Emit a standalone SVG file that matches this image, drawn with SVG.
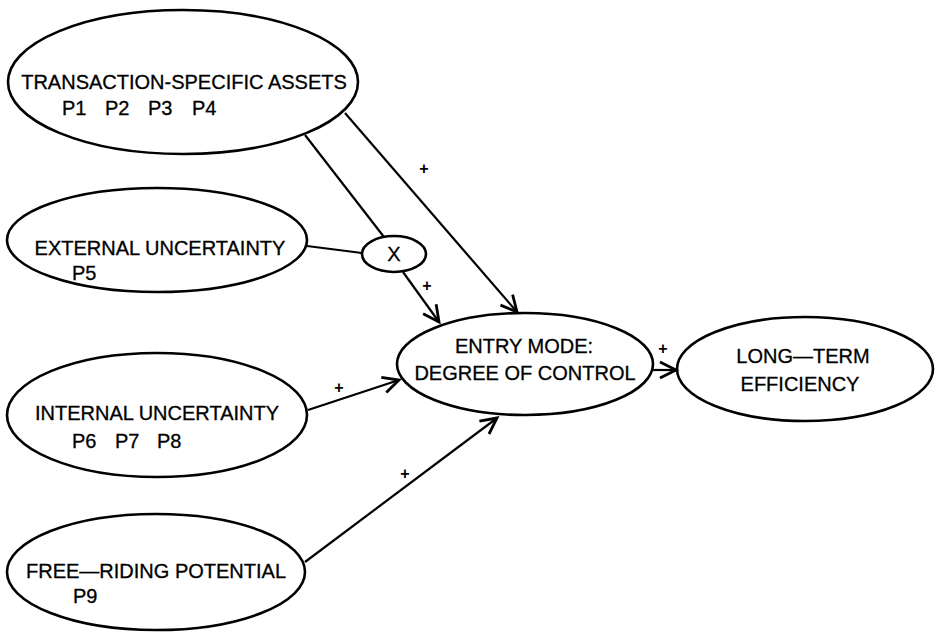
<svg xmlns="http://www.w3.org/2000/svg" width="936" height="633" viewBox="0 0 936 633">
<style>
.n{fill:none;stroke:#000;stroke-width:2.6}
.t{font-family:"Liberation Sans",Arial,sans-serif;font-size:20px;fill:#000;stroke:#000;stroke-width:0.3}
.c{text-anchor:middle}
.e{fill:none;stroke:#000;stroke-width:2.2}
.a{marker-end:url(#arr)}
.p{font-family:"Liberation Sans",Arial,sans-serif;font-size:16px;font-weight:bold;fill:#000;text-anchor:middle}
</style>
<defs>
<marker id="arr" markerUnits="userSpaceOnUse" markerWidth="24" markerHeight="24" viewBox="-20 -10 24 20" refX="0" refY="0" orient="auto">
<path d="M-16,-8 L0,0 L-16,8" fill="none" stroke="#000" stroke-width="2.8"/>
</marker>
</defs>
<rect width="936" height="633" fill="#fff"/>
<g id="connectors">
<line class="e" x1="305" y1="135" x2="384" y2="237"/>
<line class="e a" x1="345" y1="113" x2="517" y2="312"/>
<line class="e" x1="307" y1="246" x2="362" y2="253"/>
<line class="e a" x1="403" y1="272" x2="439" y2="322"/>
<line class="e a" x1="308" y1="410" x2="399" y2="380"/>
<line class="e a" x1="305" y1="562" x2="497" y2="418"/>
<line class="e a" x1="653" y1="370" x2="676" y2="370"/>
<text class="p" x="424" y="174">+</text>
<text class="p" x="427" y="291">+</text>
<text class="p" x="339" y="393">+</text>
<text class="p" x="405" y="479">+</text>
<text class="p" x="663" y="354">+</text>
</g>
<g id="tsa">
<ellipse class="n" cx="183" cy="82" rx="175" ry="72"/>
<text class="t c" x="184" y="89">TRANSACTION-SPECIFIC ASSETS</text>
<text class="t"><tspan x="62" y="115">P1</tspan><tspan x="105" y="115">P2</tspan><tspan x="148" y="115">P3</tspan><tspan x="192" y="115">P4</tspan></text>
</g>
<g id="external">
<ellipse class="n" cx="157" cy="240" rx="150" ry="52"/>
<text class="t c" x="160" y="255">EXTERNAL UNCERTAINTY</text>
<text class="t" x="72" y="280">P5</text>
</g>
<g id="internal">
<ellipse class="n" cx="157" cy="415" rx="150" ry="62"/>
<text class="t c" x="157" y="420">INTERNAL UNCERTAINTY</text>
<text class="t"><tspan x="72" y="448">P6</tspan><tspan x="115" y="448">P7</tspan><tspan x="157" y="448">P8</tspan></text>
</g>
<g id="freeriding">
<ellipse class="n" cx="156" cy="572" rx="149" ry="58"/>
<text class="t c" x="156" y="578">FREE—RIDING POTENTIAL</text>
<text class="t" x="73" y="603">P9</text>
</g>
<g id="x">
<ellipse class="n" cx="394" cy="254" rx="32" ry="18"/>
<text class="t c" x="394" y="261">X</text>
</g>
<g id="entry">
<ellipse class="n" cx="525" cy="364" rx="128" ry="51"/>
<text class="t c" x="524" y="353">ENTRY MODE:</text>
<text class="t c" x="525" y="380">DEGREE OF CONTROL</text>
</g>
<g id="longterm">
<ellipse class="n" cx="805" cy="369" rx="128" ry="52"/>
<text class="t c" x="803" y="363">LONG—TERM</text>
<text class="t c" x="800" y="391">EFFICIENCY</text>
</g>
</svg>
